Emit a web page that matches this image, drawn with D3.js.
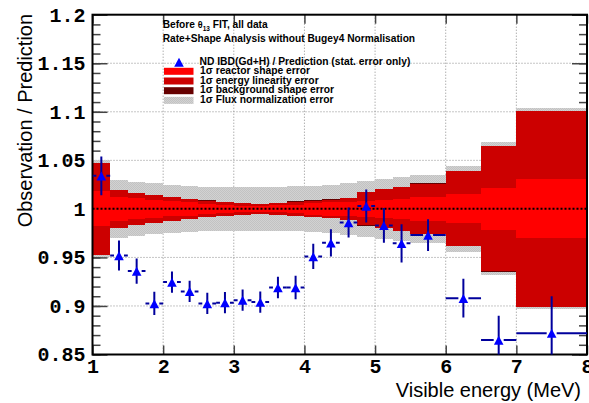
<!DOCTYPE html>
<html>
<head>
<meta charset="utf-8">
<script src="https://cdn.jsdelivr.net/npm/d3@7"></script>
<style>
  body { margin: 0; background: #fff; }
  svg { display: block; }
</style>
</head>
<body>
<svg id="chart"></svg>
<script>
// Bin edges of the visible energy spectrum (MeV)
var binEdges = [1, 1.25, 1.5, 1.75, 2, 2.25, 2.5, 2.75, 3, 3.25, 3.5, 3.75, 4,
                4.25, 4.5, 4.75, 5, 5.25, 5.5, 6, 6.5, 7, 8];
// ND IBD / prediction ratio and its stat. error, one per bin
var ratio = [1.034, 0.952, 0.936, 0.9026, 0.9246, 0.915, 0.9026, 0.9034, 0.906, 0.904, 0.919,
             0.919, 0.951, 0.965, 0.986, 1.003, 0.983, 0.9645, 0.973, 0.908, 0.865, 0.872];
var statErr = [0.020, 0.0155, 0.013, 0.012, 0.011, 0.011, 0.011, 0.011, 0.011, 0.011, 0.011,
               0.012, 0.013, 0.014, 0.0155, 0.017, 0.018, 0.0197, 0.0163, 0.020, 0.025, 0.038];
// Half widths of the cumulative 1 sigma bands around 1
var reactorErr = [0.018, 0.0127, 0.0107, 0.0091, 0.0077, 0.0069, 0.0053, 0.0043, 0.0034, 0.0028, 0.0036,
                  0.0045, 0.006, 0.007, 0.0075, 0.008, 0.009, 0.0103, 0.012, 0.015, 0.0215, 0.0305];
var linearityErr = [0.0475, 0.0192, 0.0163, 0.0143, 0.012, 0.0103, 0.0086, 0.0072, 0.0062, 0.0052, 0.0062,
                    0.0074, 0.0086, 0.0095, 0.0115, 0.017, 0.020, 0.0227, 0.026, 0.0385, 0.0645, 0.101];
var backgroundErr = [0.0477, 0.0194, 0.0165, 0.0145, 0.0122, 0.0105, 0.0088, 0.0074, 0.0064, 0.0054, 0.0064,
                     0.0076, 0.0088, 0.0097, 0.0117, 0.0172, 0.0202, 0.0229, 0.0262, 0.0387, 0.0647, 0.1012];
var fluxErr = [0.050, 0.0298, 0.028, 0.0263, 0.0246, 0.0237, 0.023, 0.0227, 0.0227, 0.0227, 0.0228,
               0.0232, 0.024, 0.0245, 0.027, 0.029, 0.031, 0.033, 0.035, 0.044, 0.0685, 0.1035];
// Axis ticks
var xTicks = [1, 2, 3, 4, 5, 6, 7, 8];
var yTicks = [0.85, 0.9, 0.95, 1, 1.05, 1.1, 1.15, 1.2];
var yMinorTicks = d3.range(85, 121).map(function(v) { return v / 100; });
var xGrid = [2, 3, 4, 5, 6, 7];
var yGrid = [0.9, 0.95, 1.05, 1.1, 1.15];
var legendBands = [
  { label: "1\u03c3 reactor shape error", fill: "#ff0000" },
  { label: "1\u03c3 energy linearity error", fill: "#cc0000" },
  { label: "1\u03c3 background shape error", fill: "#660000" },
  { label: "1\u03c3 Flux normalization error", fill: "url(#fluxPattern)" }
];

var width = 589, height = 403;
var L = 92.5, R = 587, T = 14.7, B = 354.5;

var svg = d3.select("#chart").attr("width", width).attr("height", height);
svg.append("rect").attr("width", width).attr("height", height).attr("fill", "#fff");

var defs = svg.append("defs");
var pat = defs.append("pattern").attr("id", "fluxPattern")
  .attr("patternUnits", "userSpaceOnUse").attr("width", 2).attr("height", 2);
pat.append("rect").attr("width", 2).attr("height", 2).attr("fill", "#d2d2d2");
pat.append("rect").attr("width", 1).attr("height", 1).attr("fill", "#c2c2c2");
pat.append("rect").attr("x", 1).attr("y", 1).attr("width", 1).attr("height", 1).attr("fill", "#c2c2c2");
defs.append("clipPath").attr("id", "plotClip")
  .append("rect").attr("x", L).attr("y", T).attr("width", R - L).attr("height", B - T);

var x = d3.scaleLinear().domain([1, 8]).range([L, R]);
var y = d3.scaleLinear().domain([0.85, 1.2]).range([B, T]);

// Dotted grid
var grid = svg.append("g").attr("stroke", "#8c8c8c").attr("stroke-width", 1).attr("stroke-dasharray", "1,2");
grid.selectAll(".gx").data(xGrid).enter().append("line")
  .attr("x1", function(d) { return x(d); }).attr("x2", function(d) { return x(d); })
  .attr("y1", T).attr("y2", B);
grid.selectAll(".gy").data(yGrid).enter().append("line")
  .attr("x1", L).attr("x2", R)
  .attr("y1", function(d) { return y(d); }).attr("y2", function(d) { return y(d); });

// Axes ticks (inward, ROOT style)
function styleAxis(g) {
  g.select(".domain").remove();
  g.selectAll(".tick line").attr("stroke", "#444").attr("stroke-width", 1.5);
  g.selectAll("text").attr("font-family", "'Liberation Mono', 'DejaVu Sans Mono', monospace")
    .attr("font-weight", "bold").attr("font-size", 20).attr("fill", "#000");
}
svg.append("g").attr("transform", "translate(" + L + ",0)")
  .call(d3.axisLeft(y).tickValues(yMinorTicks).tickSize(-8).tickFormat(""))
  .call(styleAxis);
svg.append("g").attr("transform", "translate(" + R + ",0)")
  .call(d3.axisRight(y).tickValues(yMinorTicks).tickSize(-8).tickFormat(""))
  .call(styleAxis);
svg.append("g").attr("transform", "translate(" + R + ",0)")
  .call(d3.axisRight(y).tickValues(yTicks).tickSize(-15).tickFormat(""))
  .call(styleAxis);
svg.append("g").attr("transform", "translate(" + L + ",0)")
  .call(d3.axisLeft(y).tickValues(yTicks).tickSize(-15).tickPadding(7)
    .tickFormat(function(d) { return d3.format("")(+d.toFixed(2)); }))
  .call(styleAxis);
svg.append("g").attr("transform", "translate(0," + B + ")")
  .call(d3.axisBottom(x).tickValues(xTicks).tickSize(-9).tickPadding(4.3).tickFormat(d3.format("d")))
  .call(styleAxis);
svg.append("g").attr("transform", "translate(0," + T + ")")
  .call(d3.axisTop(x).tickValues(xTicks).tickSize(-9).tickFormat(""))
  .call(styleAxis);

// Error bands, widest first
var bins = d3.range(ratio.length);
function drawBand(errs, fill) {
  svg.append("g").attr("shape-rendering", "crispEdges").selectAll("rect")
    .data(bins).enter().append("rect")
    .attr("x", function(i) { return x(binEdges[i]); })
    .attr("width", function(i) { return x(binEdges[i + 1]) - x(binEdges[i]); })
    .attr("y", function(i) { return y(1 + errs[i]); })
    .attr("height", function(i) { return y(1 - errs[i]) - y(1 + errs[i]); })
    .attr("fill", fill);
}
drawBand(fluxErr, "url(#fluxPattern)");
drawBand(backgroundErr, "#660000");
drawBand(linearityErr, "#cc0000");
drawBand(reactorErr, "#ff0000");

// Reference line at 1
svg.append("line").attr("x1", L).attr("x2", R).attr("y1", y(1)).attr("y2", y(1))
  .attr("stroke", "#000").attr("stroke-width", 2).attr("stroke-dasharray", "2,2");

// Frame
svg.append("rect").attr("x", L).attr("y", T).attr("width", R - L).attr("height", B - T)
  .attr("fill", "none").attr("stroke", "#000").attr("stroke-width", 2);

// Data points with error bars
var tri = "M0,-4.3L4.8,4.7L-4.8,4.7Z";
var pts = svg.append("g").attr("clip-path", "url(#plotClip)");
var gap = 5;
var errColor = "#00009c";
pts.selectAll(".hl").data(bins).enter().append("line")
  .attr("x1", function(i) { return x(binEdges[i]); })
  .attr("x2", function(i) { return x((binEdges[i] + binEdges[i + 1]) / 2) - gap; })
  .attr("y1", function(i) { return y(ratio[i]); }).attr("y2", function(i) { return y(ratio[i]); })
  .attr("stroke", errColor).attr("stroke-width", 2);
pts.selectAll(".hr").data(bins).enter().append("line")
  .attr("x1", function(i) { return x((binEdges[i] + binEdges[i + 1]) / 2) + gap; })
  .attr("x2", function(i) { return x(binEdges[i + 1]); })
  .attr("y1", function(i) { return y(ratio[i]); }).attr("y2", function(i) { return y(ratio[i]); })
  .attr("stroke", errColor).attr("stroke-width", 2);
pts.selectAll(".v").data(bins).enter().append("line")
  .attr("x1", function(i) { return x((binEdges[i] + binEdges[i + 1]) / 2); })
  .attr("x2", function(i) { return x((binEdges[i] + binEdges[i + 1]) / 2); })
  .attr("y1", function(i) { return y(ratio[i] + statErr[i]); })
  .attr("y2", function(i) { return y(ratio[i] - statErr[i]); })
  .attr("stroke", errColor).attr("stroke-width", 2);
pts.selectAll(".m").data(bins).enter().append("path")
  .attr("d", tri).attr("fill", "#0000ff")
  .attr("transform", function(i) {
    return "translate(" + x((binEdges[i] + binEdges[i + 1]) / 2) + "," + y(ratio[i]) + ")";
  });

// Axis titles
svg.append("text").attr("transform", "translate(32," + ((T + B) / 2 - 64) + ") rotate(-90)")
  .attr("text-anchor", "middle").attr("font-family", "'Liberation Sans', Arial, sans-serif")
  .attr("font-size", 20).text("Observation / Prediction");
svg.append("text").attr("x", 581).attr("y", 396.5).attr("text-anchor", "end")
  .attr("font-family", "'Liberation Sans', Arial, sans-serif").attr("font-size", 20)
  .text("Visible energy (MeV)");

// Header text
var font = "'Liberation Sans', Arial, sans-serif";
var t1 = svg.append("text").attr("x", 162.7).attr("y", 28).attr("font-family", font)
  .attr("font-weight", "bold").attr("font-size", 10.2);
t1.append("tspan").text("Before ");
t1.append("tspan").attr("font-size", 9).text("\u03b8");
t1.append("tspan").attr("font-size", 6.5).attr("dy", 2.5).text("13");
t1.append("tspan").attr("dy", -2.5).text(" FIT, all data");
svg.append("text").attr("x", 162.7).attr("y", 42).attr("font-family", font)
  .attr("font-weight", "bold").attr("font-size", 10.2)
  .text("Rate+Shape Analysis without Bugey4 Normalisation");

// Legend
var leg = svg.append("g");
leg.append("path").attr("d", tri).attr("fill", "#0000ff").attr("transform", "translate(179,62)");
leg.append("text").attr("x", 199.5).attr("y", 65).attr("font-family", font)
  .attr("font-weight", "bold").attr("font-size", 10.3)
  .text("ND IBD(Gd+H) / Prediction (stat. error only)");
leg.selectAll(".lr").data(legendBands).enter().append("rect")
  .attr("x", 164).attr("width", 29.5)
  .attr("y", function(d, i) { return 67.8 + i * 9.7; }).attr("height", 7)
  .attr("fill", function(d) { return d.fill; });
leg.selectAll(".lt").data(legendBands).enter().append("text")
  .attr("x", 200).attr("y", function(d, i) { return 74.2 + i * 9.5; })
  .attr("font-family", font).attr("font-weight", "bold").attr("font-size", 10.3)
  .text(function(d) { return d.label; });
</script>
</body>
</html>
